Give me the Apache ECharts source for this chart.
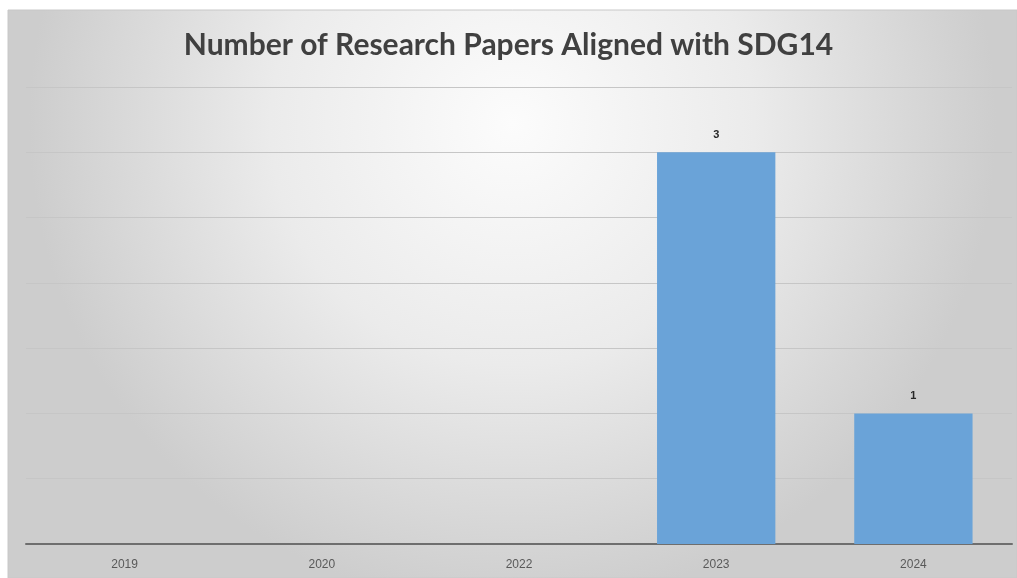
<!DOCTYPE html>
<html>
<head>
<meta charset="utf-8">
<script src="https://cdn.jsdelivr.net/npm/echarts@6/dist/echarts.min.js"></script>
<style>
html,body{margin:0;padding:0;background:#fff;}
#c{width:1017px;height:578px;}
</style>
</head>
<body>
<div id="c"></div>
<script>
const categories = ['2019', '2020', '2022', '2023', '2024'];
const papers = [null, null, null, 3, 1];
const titleText = 'Number of Research Papers Aligned with SDG14';

const chart = echarts.init(document.getElementById('c'));
chart.setOption({
  animation: false,
  graphic: [{
    type: 'rect',
    z: -10,
    silent: true,
    shape: { x: 8, y: 10, width: 1009, height: 568 },
    style: {
      fill: {
        type: 'radial', x: 0.5, y: 0.2, r: 0.85,
        colorStops: [
          { offset: 0, color: '#fcfcfc' },
          { offset: 0.5, color: '#ebebeb' },
          { offset: 1, color: '#cdcdcd' }
        ]
      },
      stroke: '#c8c8c8',
      lineWidth: 1
    }
  }],
  title: {
    text: titleText,
    left: 'center',
    top: 25,
    textStyle: {
      fontFamily: 'Lato',
      fontWeight: 'bold',
      fontSize: 30,
      color: '#404040'
    }
  },
  grid: { left: 26, right: 5, top: 87, bottom: 34, containLabel: false },
  xAxis: {
    type: 'category',
    data: categories,
    axisLine: { lineStyle: { color: '#6e6e6e', width: 2 } },
    axisTick: { show: false },
    axisLabel: { color: '#595959', fontSize: 12, fontFamily: 'Liberation Sans', margin: 15 }
  },
  yAxis: {
    type: 'value',
    min: 0, max: 3.5, interval: 0.5,
    axisLabel: { show: false },
    axisLine: { show: false },
    axisTick: { show: false },
    splitLine: { lineStyle: { color: '#c6c6c6', width: 1 } }
  },
  series: [{
    type: 'bar',
    data: papers,
    barWidth: '60%',
    itemStyle: { color: '#6aa3d8' },
    label: {
      show: true,
      position: 'top',
      distance: 12,
      color: '#262626',
      fontWeight: 'bold',
      fontSize: 11,
      fontFamily: 'Liberation Sans'
    }
  }]
});
</script>
</body>
</html>
